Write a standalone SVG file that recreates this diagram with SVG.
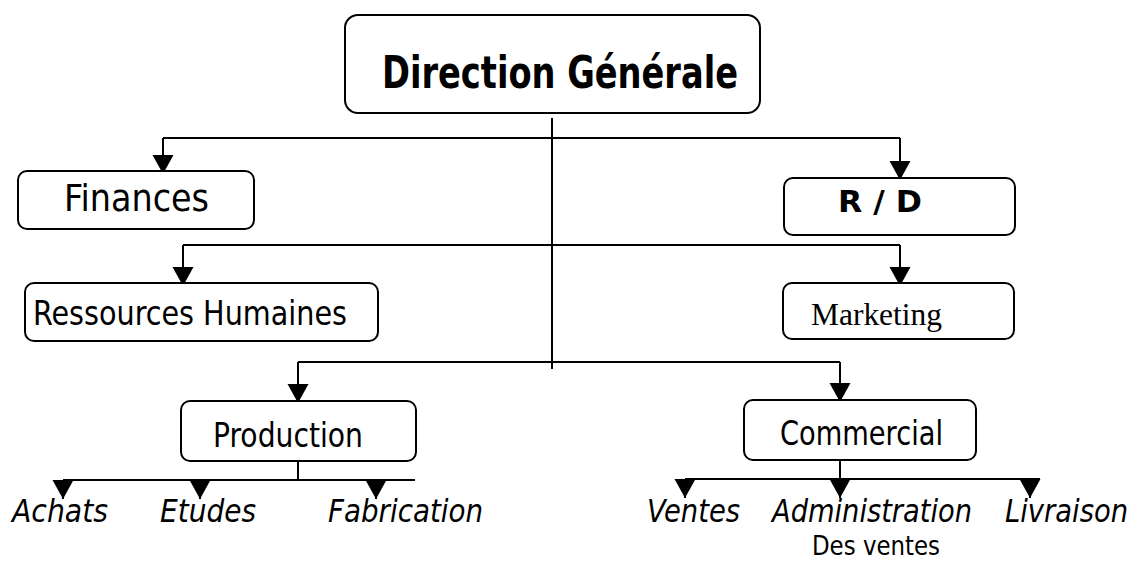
<svg xmlns="http://www.w3.org/2000/svg" width="1133" height="562" viewBox="0 0 1133 562">
<style>
.box{fill:#fff;stroke:#000;stroke-width:2}
.ln{fill:none;stroke:#000;stroke-width:2}
.t{font-family:"DejaVu Sans Condensed","DejaVu Sans",Tahoma,sans-serif;fill:#000;font-stretch:condensed}
.b{font-weight:bold}
.i{font-style:italic}
.serif{font-family:"Liberation Serif","Times New Roman",serif;fill:#000}
</style>
<defs>
<marker id="ah" markerUnits="userSpaceOnUse" markerWidth="22" markerHeight="22" refX="19" refY="10.5" orient="auto" viewBox="0 0 22 22">
<path d="M0,0 L19,10.5 L0,21 Z" fill="#000"/>
</marker>
</defs>
<rect width="1133" height="562" fill="#fff"/>
<g id="connectors">
<path class="ln" d="M552,118 V369"/>
<path class="ln" d="M163,138 H900"/>
<path class="ln" d="M163,138 V174" marker-end="url(#ah)"/>
<path class="ln" d="M900,138 V180" marker-end="url(#ah)"/>
<path class="ln" d="M183,245 H900"/>
<path class="ln" d="M183,245 V286" marker-end="url(#ah)"/>
<path class="ln" d="M900,245 V286" marker-end="url(#ah)"/>
<path class="ln" d="M298,362 H840"/>
<path class="ln" d="M298,362 V403" marker-end="url(#ah)"/>
<path class="ln" d="M840,362 V402" marker-end="url(#ah)"/>
<path class="ln" d="M298,461 V480 M63,480 H415"/>
<path class="ln" d="M63,480 V499" marker-end="url(#ah)"/>
<path class="ln" d="M200,480 V499" marker-end="url(#ah)"/>
<path class="ln" d="M376,480 V499" marker-end="url(#ah)"/>
<path class="ln" d="M840,460 V479 M685,479 H1040"/>
<path class="ln" d="M685,479 V498" marker-end="url(#ah)"/>
<path class="ln" d="M840,479 V498" marker-end="url(#ah)"/>
<path class="ln" d="M1030,479 V498" marker-end="url(#ah)"/>
</g>
<g id="n-direction">
<rect class="box" x="345" y="15" width="415" height="98" rx="13"/>
<text class="t b" x="382" y="88" font-size="45" textLength="356" lengthAdjust="spacingAndGlyphs">Direction Générale</text>
</g>
<g id="n-finances">
<rect class="box" x="18" y="171" width="236" height="58" rx="9"/>
<text class="t" x="64" y="211" font-size="38" textLength="145" lengthAdjust="spacingAndGlyphs">Finances</text>
</g>
<g id="n-rd">
<rect class="box" x="784" y="178" width="231" height="57" rx="9"/>
<text class="t b" x="838" y="212" font-size="30" textLength="84" lengthAdjust="spacingAndGlyphs">R / D</text>
</g>
<g id="n-rh">
<rect class="box" x="25" y="283" width="353" height="58" rx="9"/>
<text class="t" x="33" y="325" font-size="34" textLength="314" lengthAdjust="spacingAndGlyphs">Ressources Humaines</text>
</g>
<g id="n-marketing">
<rect class="box" x="783" y="283" width="231" height="56" rx="9"/>
<text class="serif" x="811" y="325" font-size="31" textLength="131" lengthAdjust="spacingAndGlyphs">Marketing</text>
</g>
<g id="n-production">
<rect class="box" x="181" y="401" width="235" height="60" rx="9"/>
<text class="t" x="213" y="447" font-size="33" textLength="150" lengthAdjust="spacingAndGlyphs">Production</text>
</g>
<g id="n-commercial">
<rect class="box" x="744" y="400" width="232" height="60" rx="9"/>
<text class="t" x="780" y="445" font-size="33" textLength="163" lengthAdjust="spacingAndGlyphs">Commercial</text>
</g>
<g id="n-achats"><text class="t i" x="12" y="522" font-size="32" textLength="96" lengthAdjust="spacingAndGlyphs">Achats</text></g>
<g id="n-etudes"><text class="t i" x="160" y="522" font-size="32" textLength="96" lengthAdjust="spacingAndGlyphs">Etudes</text></g>
<g id="n-fabrication"><text class="t i" x="328" y="522" font-size="32" textLength="155" lengthAdjust="spacingAndGlyphs">Fabrication</text></g>
<g id="n-ventes"><text class="t i" x="647" y="522" font-size="32" textLength="93" lengthAdjust="spacingAndGlyphs">Ventes</text></g>
<g id="n-administration">
<text class="t i" x="772" y="522" font-size="32" textLength="200" lengthAdjust="spacingAndGlyphs">Administration</text>
<text class="t" x="812" y="555" font-size="27" textLength="128" lengthAdjust="spacingAndGlyphs">Des ventes</text>
</g>
<g id="n-livraison"><text class="t i" x="1005" y="522" font-size="32" textLength="123" lengthAdjust="spacingAndGlyphs">Livraison</text></g>
</svg>
